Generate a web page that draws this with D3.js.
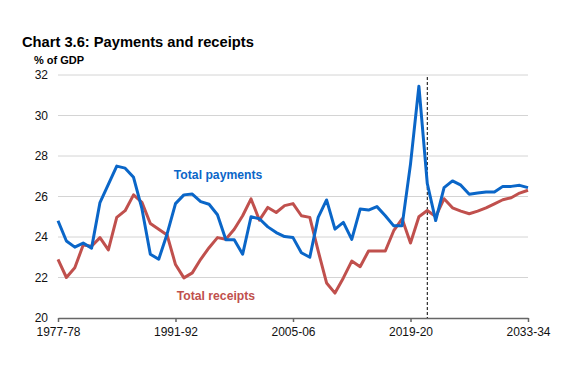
<!DOCTYPE html>
<html>
<head>
<meta charset="utf-8">
<script src="https://cdn.jsdelivr.net/npm/d3@7"></script>
<style>
  body { margin: 0; background: #fff; }
  svg { display: block; font-family: "Liberation Sans", Arial, sans-serif; }
</style>
</head>
<body>
<div id="chart"></div>
<script>
const years = [
  '1977-78','1978-79','1979-80','1980-81','1981-82','1982-83','1983-84','1984-85','1985-86','1986-87',
  '1987-88','1988-89','1989-90','1990-91','1991-92','1992-93','1993-94','1994-95','1995-96','1996-97',
  '1997-98','1998-99','1999-00','2000-01','2001-02','2002-03','2003-04','2004-05','2005-06','2006-07',
  '2007-08','2008-09','2009-10','2010-11','2011-12','2012-13','2013-14','2014-15','2015-16','2016-17',
  '2017-18','2018-19','2019-20','2020-21','2021-22','2022-23','2023-24','2024-25','2025-26','2026-27',
  '2027-28','2028-29','2029-30','2030-31','2031-32','2032-33','2033-34'
];
const payments = [
  24.8, 23.8, 23.5, 23.7, 23.45, 25.7, 26.6, 27.5, 27.4, 26.95,
  25.4, 23.15, 22.9, 24.15, 25.65, 26.08, 26.12, 25.75, 25.62, 25.1,
  23.86, 23.86, 23.15, 25.0, 24.9, 24.5, 24.22, 24.02, 23.97, 23.22,
  23.0, 24.97, 25.83, 24.39, 24.72, 23.88, 25.38, 25.33, 25.5, 25.05,
  24.55, 24.56, 27.6, 31.45, 26.64, 24.81, 26.44, 26.77, 26.56, 26.11,
  26.17, 26.22, 26.22, 26.5, 26.5, 26.55, 26.44
];
const receipts = [
  22.9, 22.0, 22.48, 23.6, 23.54, 23.97, 23.36, 24.97, 25.3, 26.08,
  25.71, 24.67, 24.38, 24.1, 22.64, 21.98, 22.23, 22.9, 23.47, 23.97,
  23.89, 24.38, 25.05, 25.88, 24.83, 25.46, 25.21, 25.55, 25.65, 25.05,
  24.97, 23.31, 21.73, 21.23, 21.98, 22.81, 22.53, 23.31, 23.31, 23.31,
  24.31, 24.9, 23.7, 25.0, 25.31, 25.01, 25.89, 25.44, 25.28, 25.15,
  25.28, 25.44, 25.64, 25.84, 25.94, 26.17, 26.31
];
const xTickLabels = ['1977-78', '1991-92', '2005-06', '2019-20', '2033-34'];
const yTicks = [20, 22, 24, 26, 28, 30, 32];
const forecastStart = '2021-22';

const width = 585, height = 378;
const margin = { top: 75, right: 57, bottom: 60, left: 58 };
const innerW = width - margin.left - margin.right;
const innerH = height - margin.top - margin.bottom;

const svg = d3.select('#chart').append('svg')
  .attr('width', width).attr('height', height);

svg.append('text')
  .attr('x', 22).attr('y', 47)
  .attr('font-size', 14.7).attr('font-weight', 'bold').attr('fill', '#000')
  .text('Chart 3.6: Payments and receipts');

svg.append('text')
  .attr('x', 34).attr('y', 64)
  .attr('font-size', 11).attr('font-weight', 'bold').attr('fill', '#000')
  .text('% of GDP');

const g = svg.append('g').attr('transform', `translate(${margin.left},${margin.top})`);

const x = d3.scaleLinear().domain([0, years.length - 1]).range([0, innerW]);
const y = d3.scaleLinear().domain([20, 32]).range([innerH, 0]);

// grid
g.append('g')
  .selectAll('line').data(yTicks.filter(t => t > 20)).join('line')
  .attr('x1', 0).attr('x2', innerW)
  .attr('y1', d => y(d)).attr('y2', d => y(d))
  .attr('stroke', '#d4d4d4').attr('stroke-width', 1);

// y labels
g.append('g')
  .selectAll('text').data(yTicks).join('text')
  .attr('x', -10).attr('y', d => y(d)).attr('dy', '0.35em')
  .attr('text-anchor', 'end').attr('font-size', 12).attr('fill', '#111')
  .text(d => d);

// x axis
const xAxis = d3.axisBottom(x)
  .tickValues(xTickLabels.map(l => years.indexOf(l)))
  .tickFormat(i => years[i])
  .tickSize(4).tickSizeOuter(0);
const xAxisG = g.append('g').attr('transform', `translate(0,${innerH})`).call(xAxis);
xAxisG.select('.domain').attr('stroke', '#666').attr('stroke-width', 1.5);
xAxisG.selectAll('.tick line').attr('stroke', '#666').attr('stroke-width', 1.5);
xAxisG.selectAll('.tick text')
  .attr('font-size', 12).attr('fill', '#111').attr('font-family', '"Liberation Sans", Arial, sans-serif')
  .attr('dy', '0.9em');

// forecast divider
const fx = x(years.indexOf(forecastStart));
g.append('line')
  .attr('x1', fx).attr('x2', fx).attr('y1', y(31.9)).attr('y2', innerH)
  .attr('stroke', '#000').attr('stroke-width', 1).attr('stroke-dasharray', '3,2');

const line = d3.line().x((d, i) => x(i)).y(d => y(d));

g.append('path').datum(receipts)
  .attr('fill', 'none').attr('stroke', '#c0504d').attr('stroke-width', 3)
  .attr('stroke-linejoin', 'round').attr('d', line);

g.append('path').datum(payments)
  .attr('fill', 'none').attr('stroke', '#0a66c8').attr('stroke-width', 3)
  .attr('stroke-linejoin', 'round').attr('d', line);

// series labels
g.append('text')
  .attr('x', x(13.8)).attr('y', y(26.86))
  .attr('font-size', 12.2).attr('font-weight', 'bold').attr('fill', '#0a66c8')
  .text('Total payments');

g.append('text')
  .attr('x', x(14.15)).attr('y', y(20.88))
  .attr('font-size', 12.2).attr('font-weight', 'bold').attr('fill', '#c0504d')
  .text('Total receipts');
</script>
</body>
</html>
